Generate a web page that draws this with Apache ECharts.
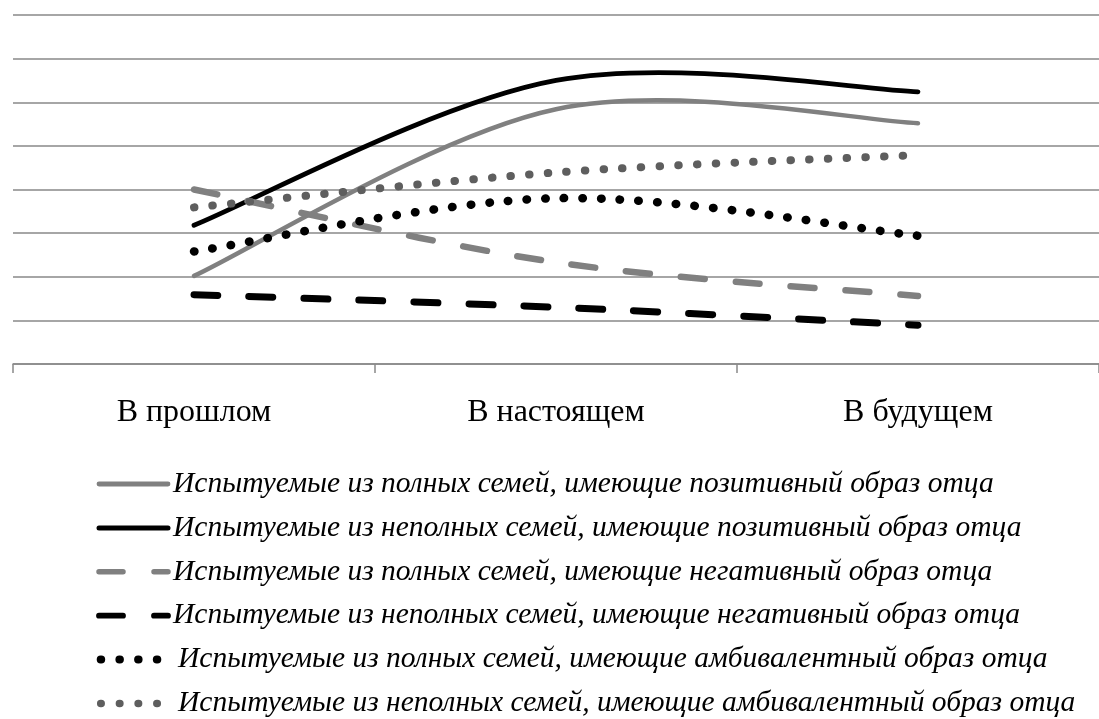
<!DOCTYPE html>
<html>
<head>
<meta charset="utf-8">
<script src="https://cdn.jsdelivr.net/npm/echarts@6/dist/echarts.min.js"></script>
<style>
  html, body { margin: 0; padding: 0; background: #fff; }
  #chart { width: 1099px; height: 719px; }
</style>
</head>
<body>
<div id="chart"></div>
<script>
	// данные графика
	var categories = ['В прошлом', 'В настоящем', 'В будущем'];
	var names = [
		'Испытуемые из полных семей, имеющие позитивный образ отца',
		'Испытуемые из неполных семей, имеющие позитивный образ отца',
		'Испытуемые из полных семей, имеющие негативный образ отца',
		'Испытуемые из неполных семей, имеющие негативный образ отца',
		'Испытуемые из полных семей, имеющие амбивалентный образ отца',
		'Испытуемые из неполных семей, имеющие амбивалентный образ отца'
	];
	var fullPositive = [2.02, 5.84, 5.52];
	var partPositive = [3.18, 6.50, 6.24];
	var fullNegative = [4.00, 2.33, 1.56];
	var partNegative = [1.59, 1.30, 0.89];
	var fullAmbi = [2.58, 3.80, 2.94];
	var partAmbi = [3.59, 4.39, 4.79];

	var serif = "'Liberation Serif', 'Times New Roman', serif";

	// стили линий (w - на графике, lw - в легенде)
	var styles = [
		{color: '#808080', w: 4.5, lw: 4.8, dash: null},
		{color: '#000000', w: 4.8, lw: 5, dash: null},
		{color: '#808080', w: 6.5, lw: 5.5, dash: [24, 31]},
		{color: '#000000', w: 7, lw: 5.8, dash: [24, 31]},
		{color: '#000000', w: 8.5, lw: 8, dash: [0.5, 18.2]},
		{color: '#5e5e5e', w: 8, lw: 7.5, dash: [0.5, 18.2]}
	];
	var values = [fullPositive, partPositive, fullNegative, partNegative, fullAmbi, partAmbi];

	// сглаживание как в Excel (безье, контрольные точки 1/6)
	function curveItem(i){
		return function(params, api){
			if (params.dataIndex !== 0) return;
			var p = [];
			for (var j = 0; j < params.dataInsideLength; j++) {
				p.push(api.coord([api.value(0, j), api.value(1, j)]));
			}
			var d = 'M' + p[0][0] + ' ' + p[0][1];
			for (var k = 0; k < p.length - 1; k++) {
				var a = p[k - 1] || p[k], b = p[k], c = p[k + 1], e = p[k + 2] || p[k + 1];
				var c1x = b[0] + (c[0] - a[0]) / 6, c1y = b[1] + (c[1] - a[1]) / 6;
				var c2x = c[0] - (e[0] - b[0]) / 6, c2y = c[1] - (e[1] - b[1]) / 6;
				d += ' C' + c1x + ' ' + c1y + ' ' + c2x + ' ' + c2y + ' ' + c[0] + ' ' + c[1];
			}
			return {
				type: 'path', shape: {pathData: d},
				style: {fill: null, stroke: styles[i].color, lineWidth: styles[i].w, lineDash: styles[i].dash, lineCap: 'round'}
			};
		};
	}

	function makeSeries(){
		var arr = [];
		for (var i = 0; i < names.length; i++) {
			// невидимая линия - только для легенды
			arr.push({
				name: names[i], type: 'line', data: values[i], symbol: 'none', silent: true,
				lineStyle: {color: styles[i].color, width: styles[i].lw, type: styles[i].dash || 'solid', cap: 'round', opacity: 0},
				itemStyle: {color: styles[i].color}
			});
			var pts = [];
			for (var j = 0; j < values[i].length; j++) pts.push([j, values[i][j]]);
			arr.push({type: 'custom', data: pts, renderItem: curveItem(i), silent: true, z: 3});
		}
		return arr;
	}
	function legendData(){
		var arr = [];
		for (var i = 0; i < names.length; i++) {
			var dotted = i >= 4;
			arr.push({name: names[i], itemStyle: {opacity: 0},
				textStyle: dotted ? {padding: [0, 0, 0, 5]} : {},
				lineStyle: {color: styles[i].color, width: styles[i].lw, type: styles[i].dash || 'solid',
					cap: 'round', opacity: 1, dashOffset: dotted ? -1.7 : 0}});
		}
		return arr;
	}

	var myChart = echarts.init(document.getElementById('chart'));
	var option = {
		backgroundColor: '#fff',
		animation: false,
		grid: {left: 13, top: 15, width: 1094, height: 349},
		legend: {
			orient: 'vertical', left: 95, top: 469, padding: 0,
			itemWidth: 69, itemHeight: 20, itemGap: 13.9,
			data: legendData(),
			textStyle: {fontFamily: serif, fontStyle: 'italic', fontSize: 29.5, color: '#000'}
		},
		xAxis: {
			type: 'category', data: categories, boundaryGap: true,
			axisLine: {lineStyle: {color: '#898989', width: 1.5}},
			axisTick: {show: true, length: 9, lineStyle: {color: '#898989', width: 1.5}},
			axisLabel: {fontFamily: serif, fontSize: 32, color: '#000', margin: 33}
		},
		yAxis: {
			type: 'value', min: 0, max: 8, interval: 1,
			axisLabel: {show: false}, axisLine: {show: false}, axisTick: {show: false},
			splitLine: {lineStyle: {color: '#898989', width: 1.5}}
		},
		series: makeSeries()
	};
	myChart.setOption(option);
</script>
</body>
</html>
